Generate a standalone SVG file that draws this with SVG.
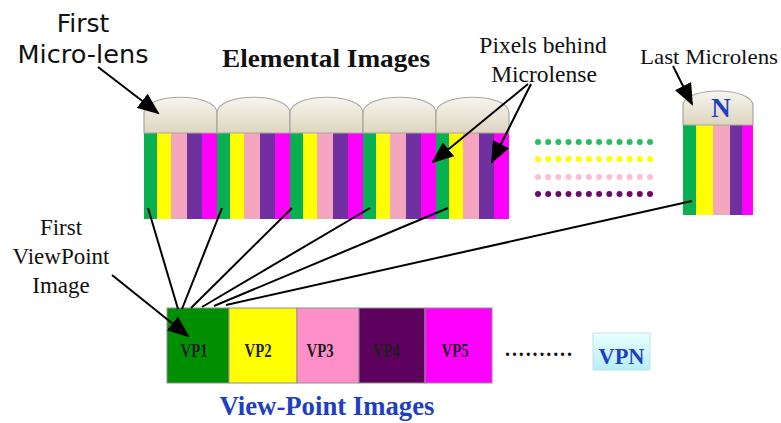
<svg xmlns="http://www.w3.org/2000/svg" width="781" height="423" viewBox="0 0 781 423">
  <defs>
    <linearGradient id="lensFill" x1="0" y1="0" x2="0" y2="1">
      <stop offset="0" stop-color="#f7f5ef"/>
      <stop offset="1" stop-color="#ddd5bf"/>
    </linearGradient>
    <linearGradient id="vpnFill" x1="0" y1="0" x2="0" y2="1">
      <stop offset="0" stop-color="#eaffff"/>
      <stop offset="1" stop-color="#b6eef6"/>
    </linearGradient>
    <marker id="head" markerUnits="userSpaceOnUse" markerWidth="22" markerHeight="18" refX="20" refY="9" orient="auto">
      <path d="M0,0 L22,9 L0,18 Z" fill="#000"/>
    </marker>
    <!-- one micro-lens dome, 73 wide -->
    <path id="dome" d="M0,35 V15 C0,-6 73,-6 73,15 V35 Z"/>
    <!-- pixel columns behind one lens -->
    <g id="pix">
      <rect x="0" y="0" width="13" height="86" fill="#09b052"/>
      <rect x="13" y="0" width="14" height="86" fill="#ffff00"/>
      <rect x="27" y="0" width="16" height="86" fill="#f5a6bf"/>
      <rect x="43" y="0" width="15" height="86" fill="#7030a0"/>
      <rect x="58" y="0" width="15" height="86" fill="#ff00ff"/>
    </g>
  </defs>
  <style>
    .lens { fill: url(#lensFill); stroke: #a9a6a0; stroke-width: 1.2; }
    .lbl { font-family: "Liberation Serif", "Times New Roman", serif; fill: #111; }
    .sans { font-family: "DejaVu Sans", "Noto Sans", sans-serif; fill: #111; }
    .vp { font-family: "Liberation Serif", serif; font-weight: bold; font-size: 19px; fill: #1e1e1e; }
    .blue { font-family: "Liberation Serif", serif; font-weight: bold; fill: #1e3fc4; }
    .ln { stroke: #000; stroke-width: 2; fill: none; }
    .arr { stroke: #000; stroke-width: 2; fill: none; marker-end: url(#head); }
    .vpbox { stroke: #8f8f8f; stroke-width: 1; }
  </style>

  <rect width="781" height="423" fill="#fff"/>

  <!-- titles and callout texts -->
  <g id="title-elemental">
    <text class="lbl" x="222" y="67" font-size="26" font-weight="bold" textLength="208" lengthAdjust="spacingAndGlyphs">Elemental Images</text>
  </g>
  <g id="label-first-lens">
    <text class="sans" x="83" y="32" font-size="25" text-anchor="middle">First</text>
    <text class="sans" x="83" y="63" font-size="25" text-anchor="middle" textLength="131" lengthAdjust="spacingAndGlyphs">Micro-lens</text>
  </g>
  <g id="label-pixels">
    <text class="lbl" x="543" y="53" font-size="23.5" text-anchor="middle">Pixels behind</text>
    <text class="lbl" x="544" y="82" font-size="23.5" text-anchor="middle">Microlense</text>
  </g>
  <g id="label-last-lens">
    <text class="lbl" x="709" y="64" font-size="22" text-anchor="middle" textLength="138" lengthAdjust="spacingAndGlyphs">Last Microlens</text>
  </g>
  <g id="label-first-vp">
    <text class="lbl" x="61" y="235" font-size="23" text-anchor="middle">First</text>
    <text class="lbl" x="61" y="264" font-size="23" text-anchor="middle">ViewPoint</text>
    <text class="lbl" x="61" y="293" font-size="23" text-anchor="middle">Image</text>
  </g>

  <!-- elemental images: five lenses with their pixel columns -->
  <g id="elemental-1">
    <use href="#pix" x="144" y="133"/>
    <use href="#dome" x="144" y="98" class="lens"/>
  </g>
  <g id="elemental-2">
    <use href="#pix" x="217" y="133"/>
    <use href="#dome" x="217" y="98" class="lens"/>
  </g>
  <g id="elemental-3">
    <use href="#pix" x="290" y="133"/>
    <use href="#dome" x="290" y="98" class="lens"/>
  </g>
  <g id="elemental-4">
    <use href="#pix" x="363" y="133"/>
    <use href="#dome" x="363" y="98" class="lens"/>
  </g>
  <g id="elemental-5">
    <use href="#pix" x="436" y="133"/>
    <use href="#dome" x="436" y="98" class="lens"/>
  </g>

  <!-- continuation dots -->
  <g id="continuation">
    <g fill="#22c060">
      <circle cx="538" cy="142" r="3"/><circle cx="548.2" cy="142" r="3"/><circle cx="558.4" cy="142" r="3"/><circle cx="568.5" cy="142" r="3"/><circle cx="578.7" cy="142" r="3"/><circle cx="588.9" cy="142" r="3"/><circle cx="599.1" cy="142" r="3"/><circle cx="609.3" cy="142" r="3"/><circle cx="619.5" cy="142" r="3"/><circle cx="629.6" cy="142" r="3"/><circle cx="639.8" cy="142" r="3"/><circle cx="650" cy="142" r="3"/>
    </g>
    <g fill="#ffff00">
      <circle cx="538" cy="159" r="3"/><circle cx="548.2" cy="159" r="3"/><circle cx="558.4" cy="159" r="3"/><circle cx="568.5" cy="159" r="3"/><circle cx="578.7" cy="159" r="3"/><circle cx="588.9" cy="159" r="3"/><circle cx="599.1" cy="159" r="3"/><circle cx="609.3" cy="159" r="3"/><circle cx="619.5" cy="159" r="3"/><circle cx="629.6" cy="159" r="3"/><circle cx="639.8" cy="159" r="3"/><circle cx="650" cy="159" r="3"/>
    </g>
    <g fill="#ffbcd2">
      <circle cx="538" cy="177" r="3"/><circle cx="548.2" cy="177" r="3"/><circle cx="558.4" cy="177" r="3"/><circle cx="568.5" cy="177" r="3"/><circle cx="578.7" cy="177" r="3"/><circle cx="588.9" cy="177" r="3"/><circle cx="599.1" cy="177" r="3"/><circle cx="609.3" cy="177" r="3"/><circle cx="619.5" cy="177" r="3"/><circle cx="629.6" cy="177" r="3"/><circle cx="639.8" cy="177" r="3"/><circle cx="650" cy="177" r="3"/>
    </g>
    <g fill="#6a0a6a">
      <circle cx="538" cy="194" r="3"/><circle cx="548.2" cy="194" r="3"/><circle cx="558.4" cy="194" r="3"/><circle cx="568.5" cy="194" r="3"/><circle cx="578.7" cy="194" r="3"/><circle cx="588.9" cy="194" r="3"/><circle cx="599.1" cy="194" r="3"/><circle cx="609.3" cy="194" r="3"/><circle cx="619.5" cy="194" r="3"/><circle cx="629.6" cy="194" r="3"/><circle cx="639.8" cy="194" r="3"/><circle cx="650" cy="194" r="3"/>
    </g>
  </g>

  <!-- last elemental image (lens N) -->
  <g id="elemental-n">
    <rect x="683" y="125" width="13" height="90" fill="#09b052"/>
    <rect x="696" y="125" width="17" height="90" fill="#ffff00"/>
    <rect x="713" y="125" width="17" height="90" fill="#f5a6bf"/>
    <rect x="730" y="125" width="12" height="90" fill="#7030a0"/>
    <rect x="742" y="125" width="11" height="90" fill="#ff00ff"/>
    <path class="lens" d="M683,125 V106 C683,86 753,86 753,106 V125 Z"/>
    <text class="blue" x="721" y="117" font-size="27" text-anchor="middle">N</text>
  </g>

  <!-- view-point images -->
  <g id="viewpoints">
    <rect class="vpbox" x="167" y="308" width="62" height="75" fill="#008f00"/>
    <rect class="vpbox" x="229" y="308" width="68" height="75" fill="#ffff00"/>
    <rect class="vpbox" x="297" y="308" width="62" height="75" fill="#ff8fc8"/>
    <rect class="vpbox" x="359" y="308" width="66" height="75" fill="#5e005e"/>
    <rect class="vpbox" x="425" y="308" width="67" height="75" fill="#ff00ff"/>
    <text class="vp" x="194" y="357" text-anchor="middle" textLength="27" lengthAdjust="spacingAndGlyphs">VP1</text>
    <text class="vp" x="258" y="357" text-anchor="middle" textLength="27" lengthAdjust="spacingAndGlyphs">VP2</text>
    <text class="vp" x="320" y="357" text-anchor="middle" textLength="27" lengthAdjust="spacingAndGlyphs">VP3</text>
    <text class="vp" x="386" y="357" text-anchor="middle" textLength="27" lengthAdjust="spacingAndGlyphs">VP4</text>
    <text class="vp" x="455" y="357" text-anchor="middle" textLength="27" lengthAdjust="spacingAndGlyphs">VP5</text>
    <text x="505" y="356" font-family="Liberation Serif, serif" font-weight="bold" font-size="20" fill="#111" textLength="67" lengthAdjust="spacing">..........</text>
  </g>
  <g id="vpn">
    <rect x="593" y="333" width="57" height="37" fill="url(#vpnFill)" stroke="#bfe3ea" stroke-width="1"/>
    <text class="blue" x="621.5" y="364" font-size="23" text-anchor="middle" textLength="46" lengthAdjust="spacingAndGlyphs">VPN</text>
  </g>
  <g id="title-viewpoint">
    <text class="blue" x="327" y="415" font-size="27" text-anchor="middle" textLength="215" lengthAdjust="spacingAndGlyphs">View-Point Images</text>
  </g>

  <!-- connectors -->
  <g id="connectors">
    <line class="ln" x1="148" y1="208" x2="178" y2="309"/>
    <line class="ln" x1="222" y1="208" x2="182" y2="309"/>
    <line class="ln" x1="292" y1="208" x2="191" y2="308"/>
    <line class="ln" x1="370" y1="208" x2="202" y2="307"/>
    <line class="ln" x1="448" y1="208" x2="214" y2="306"/>
    <line class="ln" x1="692" y1="201" x2="226" y2="305"/>
    <line class="arr" x1="98" y1="67" x2="158" y2="113"/>
    <line class="arr" x1="528" y1="84" x2="433" y2="162"/>
    <line class="arr" x1="531" y1="84" x2="492" y2="162"/>
    <line class="arr" x1="673" y1="66" x2="692" y2="104"/>
    <line class="arr" x1="112" y1="275" x2="188" y2="336"/>
  </g>
</svg>
